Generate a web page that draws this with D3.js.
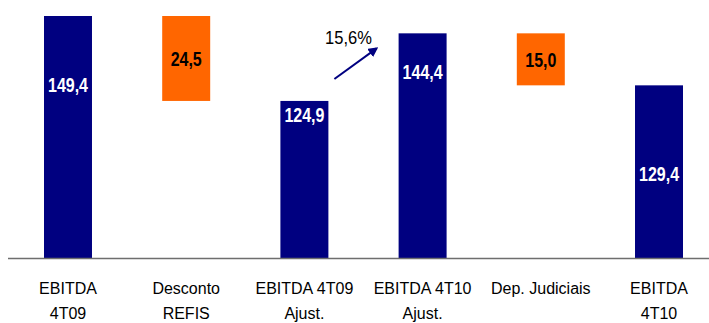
<!DOCTYPE html>
<html>
<head>
<meta charset="utf-8">
<script src="https://cdn.jsdelivr.net/npm/d3@7"></script>
<style>
    body { margin: 0; background: #fff; }
    #chart { width: 709px; height: 323px; }
    text { font-family: "Liberation Sans", Arial, sans-serif; }
</style>
</head>
<body>
<div id="chart"></div>
<script>
// chart values
const categories = ["EBITDA 4T09", "Desconto REFIS", "EBITDA 4T09 Ajust.", "EBITDA 4T10 Ajust.", "Dep. Judiciais", "EBITDA 4T10"]
const categoryLines = [["EBITDA", "4T09"], ["Desconto", "REFIS"], ["EBITDA 4T09", "Ajust."], ["EBITDA 4T10", "Ajust."], ["Dep. Judiciais"], ["EBITDA", "4T10"]]
const values = [149.4, 24.5, 124.9, 144.4, 15.0, 129.4]
const kinds = ["total", "delta", "total", "total", "delta", "total"]
const growthLabel = "15,6%"

// value label offset (px below bar top) for the navy bars, as in the original
const totalLabelDy = [69, null, 14, 38, null, 88]

function drawChart() {
    const width = 709
    const height = 323
    const baseY = 258

    const svg = d3.select("#chart").append("svg")
        .attr("width", width)
        .attr("height", height)

    const x = d3.scaleBand()
        .domain(categories)
        .range([44, 683])
        .paddingInner(0.594)
        .paddingOuter(0)

    const y = d3.scaleLinear()
        .domain([79.6, 149.4])
        .range([baseY, 16])

    // compute waterfall spans
    let running = 0
    const bars = categories.map((c, i) => {
        let y0, y1
        if (kinds[i] === "total") {
            running = values[i]
            y0 = y.domain()[0]
            y1 = values[i]
        } else {
            // the drop hangs from the previous total
            y1 = running
            y0 = running - values[i]
            running = y0
        }
        return {cat: c, value: values[i], kind: kinds[i], y0: y0, y1: y1, i: i}
    })

    svg.selectAll(".bar")
        .data(bars)
        .join("rect")
        .attr("class", "bar")
        .attr("x", d => x(d.cat))
        .attr("width", x.bandwidth())
        .attr("y", d => y(d.y1))
        .attr("height", d => y(d.y0) - y(d.y1))
        .attr("fill", d => d.kind === "total" ? "#000080" : "#FF6600")

    // baseline
    svg.append("line")
        .attr("x1", 8)
        .attr("x2", width)
        .attr("y1", baseY + 0.5)
        .attr("y2", baseY + 0.5)
        .attr("stroke", "#6e6e6e")
        .attr("stroke-width", 1.6)

    const fmt = v => d3.format(".1f")(v).replace(".", ",")

    svg.selectAll(".val")
        .data(bars)
        .join("text")
        .attr("class", "val")
        .attr("transform", d => {
            const cx = x(d.cat) + x.bandwidth() / 2
            const cy = d.kind === "total"
                ? y(d.y1) + totalLabelDy[d.i]
                : (y(d.y0) + y(d.y1)) / 2
            return `translate(${cx},${cy}) scale(0.8,1)`
        })
        .attr("text-anchor", "middle")
        .attr("dy", "0.36em")
        .attr("font-size", 20)
        .attr("font-weight", "bold")
        .attr("fill", d => d.kind === "total" ? "#ffffff" : "#000000")
        .text(d => fmt(d.value))

    // category labels
    const cat = svg.selectAll(".cat")
        .data(bars)
        .join("text")
        .attr("class", "cat")
        .attr("text-anchor", "middle")
        .attr("font-size", 16)
        .attr("fill", "#000")
    cat.selectAll("tspan")
        .data(d => categoryLines[d.i].map(l => ({l: l, cx: x(d.cat) + x.bandwidth() / 2})))
        .join("tspan")
        .attr("x", d => d.cx)
        .attr("y", (d, j) => 294 + j * 25)
        .text(d => d.l)

    // growth arrow between the adjusted totals
    const defs = svg.append("defs")
    defs.append("marker")
        .attr("id", "arrowhead")
        .attr("viewBox", "0 0 10 10")
        .attr("refX", 8)
        .attr("refY", 5)
        .attr("markerWidth", 5)
        .attr("markerHeight", 5)
        .attr("orient", "auto")
        .append("path")
        .attr("d", "M0,0 L10,5 L0,10 Z")
        .attr("fill", "#000080")

    const ax1 = x(categories[2]) + x.bandwidth() + 6
    const ay1 = y(values[2]) - 22
    const ax2 = x(categories[3]) - 22
    const ay2 = y(values[3]) + 15
    svg.append("line")
        .attr("x1", ax1)
        .attr("y1", ay1)
        .attr("x2", ax2)
        .attr("y2", ay2)
        .attr("stroke", "#000080")
        .attr("stroke-width", 2)
        .attr("marker-end", "url(#arrowhead)")

    svg.append("text")
        .attr("transform", `translate(${(ax1 + ax2) / 2 - 7},${ay2 - 4}) scale(0.87,1)`)
        .attr("text-anchor", "middle")
        .attr("font-size", 19)
        .attr("fill", "#000")
        .text(growthLabel)
}

drawChart()
</script>
</body>
</html>
